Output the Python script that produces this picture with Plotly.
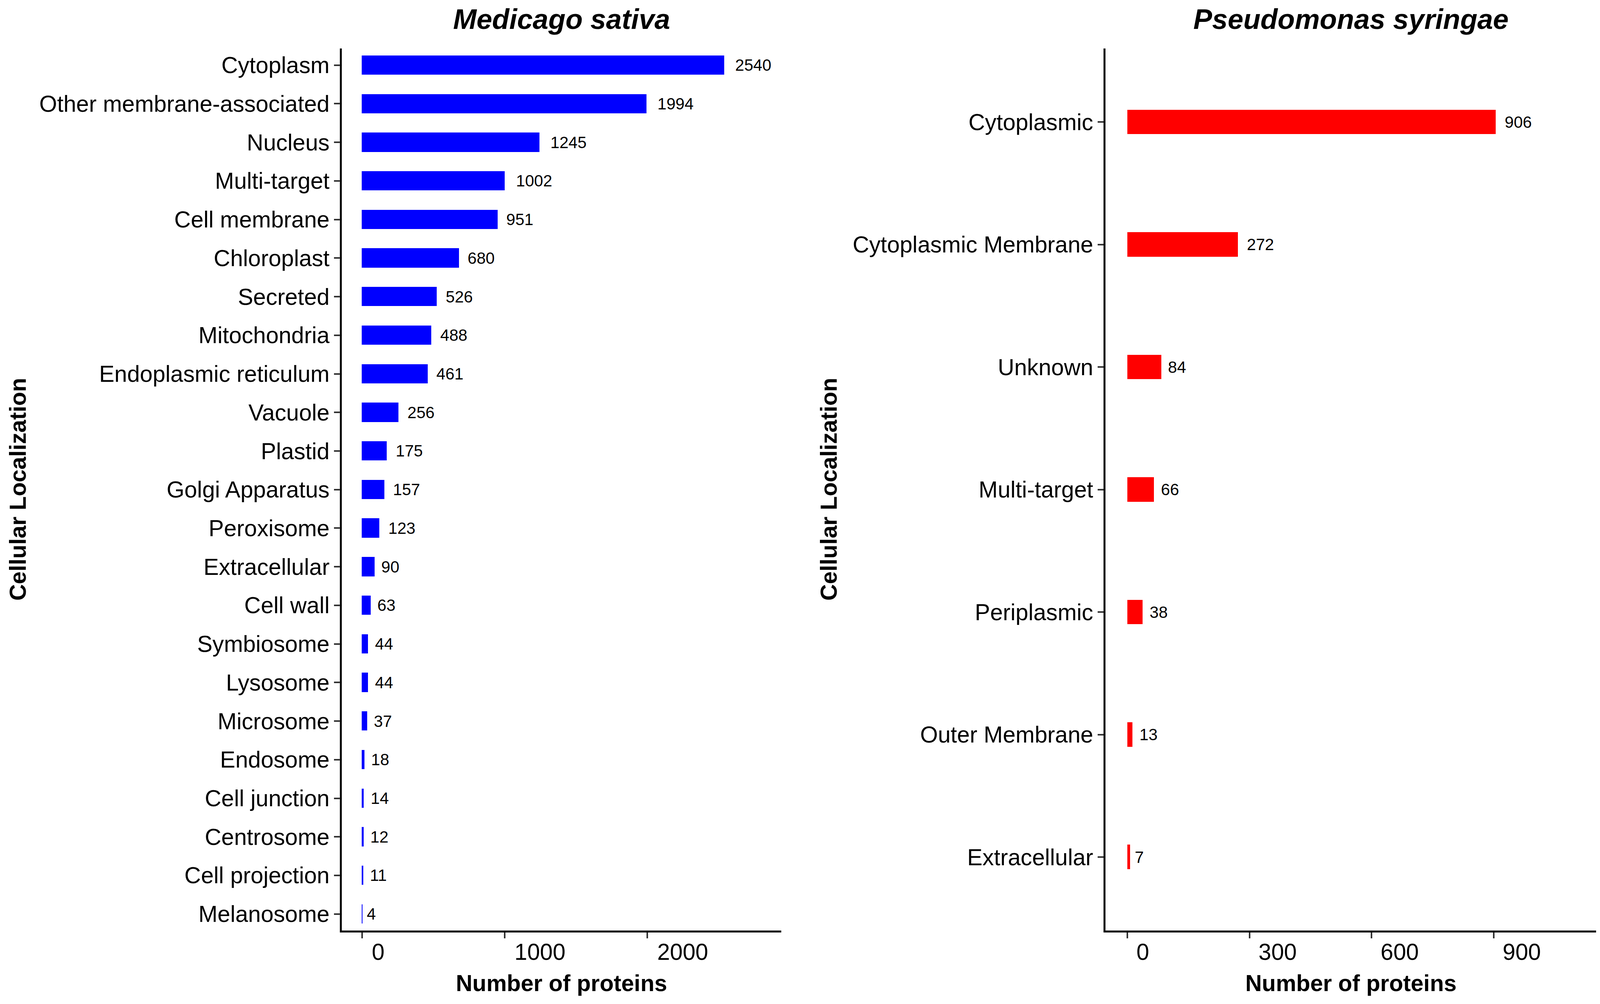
import plotly.graph_objects as go
from plotly.subplots import make_subplots

# Medicago sativa (top to bottom)
ms_locations = ['Cytoplasm', 'Other membrane-associated', 'Nucleus', 'Multi-target',
                'Cell membrane', 'Chloroplast', 'Secreted', 'Mitochondria',
                'Endoplasmic reticulum', 'Vacuole', 'Plastid', 'Golgi Apparatus',
                'Peroxisome', 'Extracellular', 'Cell wall', 'Symbiosome', 'Lysosome',
                'Microsome', 'Endosome', 'Cell junction', 'Centrosome',
                'Cell projection', 'Melanosome']
ms_counts = [2540, 1994, 1245, 1002, 951, 680, 526, 488, 461, 256, 175, 157,
             123, 90, 63, 44, 44, 37, 18, 14, 12, 11, 4]
ms_ticks = [0, 1000, 2000]

# Pseudomonas syringae (top to bottom)
ps_locations = ['Cytoplasmic', 'Cytoplasmic Membrane', 'Unknown', 'Multi-target',
                'Periplasmic', 'Outer Membrane', 'Extracellular']
ps_counts = [906, 272, 84, 66, 38, 13, 7]
ps_ticks = [0, 300, 600, 900]

FONT = 'Liberation Sans, Arial, Helvetica, sans-serif'
W, H = 4318, 2569       # reference picture size, used for paper fractions
S = 1 / 1.057           # page px -> screenshot px correction
LABEL_SIZE = 44 * S

fig = make_subplots(rows=1, cols=2)

fig.add_trace(go.Bar(x=ms_counts, y=ms_locations, orientation='h',
                     marker=dict(color='#0000FF', line=dict(width=0)),
                     width=0.5, showlegend=False), row=1, col=1)
fig.add_trace(go.Bar(x=ps_counts, y=ps_locations, orientation='h',
                     marker=dict(color='#FF0000', line=dict(width=0)),
                     width=0.2, showlegend=False), row=1, col=2)

# value labels next to bars (ggplot-like hjust offset)
def add_labels(values, cats, xref, yref):
    for v, c in zip(values, cats):
        txt = str(v)
        est_w = len(txt) * 0.556 * LABEL_SIZE
        fig.add_annotation(x=v, y=c, xref=xref, yref=yref, text=txt,
                           showarrow=False, xanchor='left', yanchor='middle',
                           xshift=4 * S + 0.24 * est_w,
                           font=dict(family=FONT, size=LABEL_SIZE, color='black'))

add_labels(ms_counts, ms_locations, 'x', 'y')
add_labels(ps_counts, ps_locations, 'x2', 'y2')

ydom = [1 - 2388 / H, 1 - 117 / H]
axis_common = dict(showline=True, linecolor='black', linewidth=5 * S, showgrid=False,
                   zeroline=False, ticks='outside', tickwidth=4 * S, tickcolor='#333333',
                   ticklen=16 * S, tickfont=dict(family=FONT, size=62 * S, color='black'))

fig.update_xaxes(axis_common)
fig.update_yaxes(axis_common)

fig.update_xaxes(domain=[918 / W, 2108 / W], range=[-140, 2938], tickvals=ms_ticks,
                 ticklabelposition='outside right', ticklabelshift=round(22 * S),
                 row=1, col=1)
fig.update_xaxes(domain=[2987 / W, 4316 / W], range=[-53.5, 1152], tickvals=ps_ticks,
                 ticklabelposition='outside right', ticklabelshift=round(20 * S),
                 row=1, col=2)
fig.update_yaxes(domain=ydom, categoryorder='array', categoryarray=ms_locations[::-1],
                 range=[-0.43, len(ms_locations) - 1 + 0.43], row=1, col=1)
fig.update_yaxes(domain=ydom, categoryorder='array', categoryarray=ps_locations[::-1],
                 range=[-0.6, len(ps_locations) - 1 + 0.6], row=1, col=2)

# panel titles and axis titles
left_c = (918 + 2108) / 2 / W
right_c = (2987 + 4316) / 2 / W
for xc, name in [(left_c, 'Medicago sativa'), (right_c, 'Pseudomonas syringae')]:
    fig.add_annotation(x=xc, y=1 - 41 / H, xref='paper', yref='paper',
                       text='<b><i>' + name + '</i></b>', showarrow=False,
                       xanchor='center', yanchor='middle',
                       font=dict(family=FONT, size=76 * S, color='black'))
    fig.add_annotation(x=xc, y=1 - 2523 / H, xref='paper', yref='paper',
                       text='<b>Number of proteins</b>', showarrow=False,
                       xanchor='center', yanchor='middle',
                       font=dict(family=FONT, size=62 * S, color='black'))
for xp in [39 / W, 2236 / W]:
    fig.add_annotation(x=xp, y=1 - 1252 / H, xref='paper', yref='paper',
                       text='<b>Cellular Localization</b>', showarrow=False,
                       textangle=-90, xanchor='center', yanchor='middle',
                       font=dict(family=FONT, size=62 * S, color='black'))

# fill the browser window
fig.update_layout(autosize=True, margin=dict(l=0, r=0, t=0, b=0),
                  plot_bgcolor='white', paper_bgcolor='white', bargap=0,
                  font=dict(family=FONT))

fig.write_html("out.html")
